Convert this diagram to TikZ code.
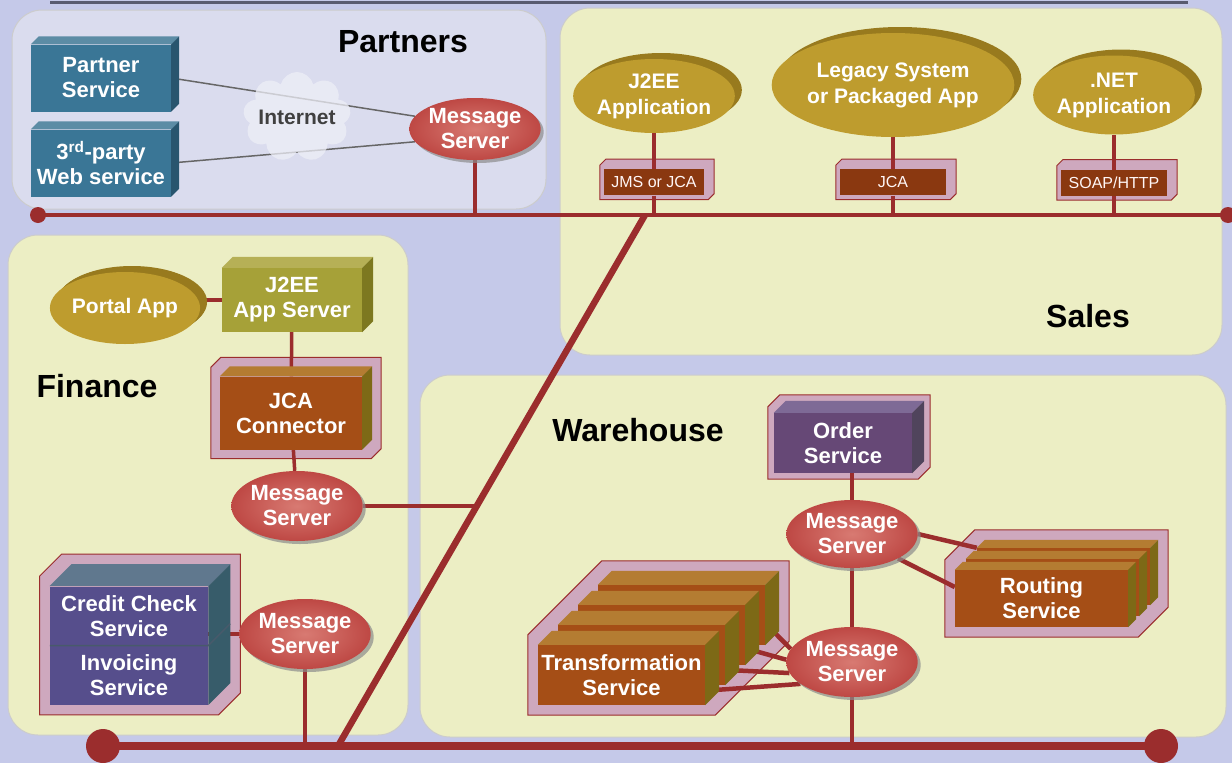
\documentclass[tikz,border=0pt]{standalone}
\usepackage{fontspec}
\setmainfont{Liberation Sans}
\usepackage{tikz}
\usetikzlibrary{shapes,arrows,positioning,fit,backgrounds,calc,shadows}
\definecolor{bgblue}{RGB}{197,201,233}
\definecolor{partnerbg}{RGB}{218,220,238}
\definecolor{panelyel}{RGB}{236,238,196}
\definecolor{wirered}{RGB}{155,45,45}
\definecolor{msred}{RGB}{190,72,68}
\definecolor{msredlight}{RGB}{216,122,114}
\definecolor{appolive}{RGB}{190,156,46}
\definecolor{appdark}{RGB}{152,122,30}
\definecolor{psblue}{RGB}{58,118,150}
\definecolor{psbluetop}{RGB}{92,140,165}
\definecolor{psblueside}{RGB}{40,85,110}
\definecolor{srvolive}{RGB}{166,161,56}
\definecolor{srvolivetop}{RGB}{182,176,86}
\definecolor{srvoliveside}{RGB}{125,120,32}
\definecolor{rust}{RGB}{165,78,22}
\definecolor{rusttop}{RGB}{180,124,50}
\definecolor{rustside}{RGB}{125,105,22}
\definecolor{ordpurple}{RGB}{102,72,118}
\definecolor{ordpurpletop}{RGB}{126,106,150}
\definecolor{ordpurpleside}{RGB}{80,68,92}
\definecolor{ccpurple}{RGB}{86,78,140}
\definecolor{ccpurpletop}{RGB}{96,120,142}
\definecolor{ccpurpleside}{RGB}{55,92,106}
\definecolor{casepink}{RGB}{206,168,190}
\definecolor{protobrown}{RGB}{138,56,16}
\definecolor{topline}{RGB}{88,90,112}
\newcommand{\lblfont}{\bfseries\fontsize{22}{25}\selectfont}
\newcommand{\appfont}{\bfseries\fontsize{21}{26}\selectfont}
\newcommand{\regionfont}{\bfseries\fontsize{32}{36}\selectfont}
\newcommand{\protofont}{\fontsize{16}{18}\selectfont}
\tikzstyle{region} = [draw=none, fill=none, text=black, font=\regionfont]
\tikzstyle{msg} = [ellipse, inner color=msredlight, outer color=msred, text=white, font=\lblfont, align=center, inner sep=0pt, minimum width=122pt, minimum height=70pt, drop shadow={shadow xshift=3pt, shadow yshift=-3pt, fill=black!45, opacity=0.7}]
\tikzstyle{app} = [ellipse, fill=appolive, text=white, font=\appfont, align=center, inner sep=0pt, general shadow={shadow xshift=7pt, shadow yshift=6pt, fill=appdark}]
\tikzstyle{svcbox} = [rectangle, text=white, font=\lblfont, align=center, inner sep=0pt]
\tikzstyle{protobox} = [rectangle, fill=protobrown, text=white!85!pink, font=\protofont, minimum width=100pt, minimum height=26pt, inner sep=0pt]
\tikzstyle{dot} = [circle, fill=wirered, inner sep=0pt, minimum size=16pt]
\tikzstyle{bigdot} = [circle, fill=wirered, inner sep=0pt, minimum size=34pt]
\tikzstyle{wire} = [draw=wirered, line width=3.5pt]
\tikzstyle{link} = [draw=wirered, line width=4.5pt]
\tikzstyle{bus} = [draw=wirered, line width=8pt]
\tikzstyle{thinwire} = [draw=black!60, line width=1.5pt]
\tikzstyle{panel} = [rounded corners=30pt, draw=black!20, line width=1pt]
\tikzstyle{hatchcase} = [fill=casepink, draw=wirered, line width=1pt]
\pgfdeclarelayer{casing}
\pgfdeclarelayer{wires}
\pgfsetlayers{background,casing,wires,main}
% top and side faces of a box node: node, depth, top colour, side colour
\newcommand{\boxfaces}[4]{%
  \fill[#3] (#1.north west) -- ++(#2,-#2) -- ($(#1.north east)+(#2,-#2)$) -- (#1.north east) -- cycle;
  \fill[#4] (#1.north east) -- ++(#2,-#2) -- ($(#1.south east)+(#2,-#2)$) -- (#1.south east) -- cycle;}
% hatched casing round a box node: node, margin, depth
\newcommand{\casebox}[3]{%
  \begin{pgfonlayer}{casing}
  \path[hatchcase] ($(#1.south west)+(-#2,#2)$) -- ($(#1.north west)+(-#2,-#2)$) -- ($(#1.north west)+(#3-#2,-#3-#2)$) -- ($(#1.north east)+(#3+#2,-#3-#2)$) -- ($(#1.south east)+(#3+#2,#2-#3)$) -- ($(#1.south east)+(#2,#2)$) -- cycle;
  \end{pgfonlayer}}
\begin{document}
\begin{tikzpicture}[x=1pt, y=-1pt]
\useasboundingbox (0,0) rectangle (1232,763);

% panels =============================
\begin{pgfonlayer}{background}
\fill[bgblue] (0,0) rectangle (1232,763);
\draw[topline, line width=3pt] (50,2) -- (1188,2);
\path[panel, fill=partnerbg] (12,10) rectangle (546,209);
\path[panel, fill=panelyel] (560,8) rectangle (1222,355);
\path[panel, fill=panelyel] (8,235) rectangle (408,735);
\path[panel, fill=panelyel] (420,375) rectangle (1226,737);
\end{pgfonlayer}

% buses
\node[dot] (tbusL) at (38,215) {};
\node[dot] (tbusR) at (1228,215) {};
\node[bigdot] (bbusL) at (103,746) {};
\node[bigdot] (bbusR) at (1161,746) {};
\coordinate (dbot) at (338,746);
\coordinate (dtop) at (645,215);
\coordinate (djoin) at ($(dbot)!0.449!(dtop)$);

% partners =============================
\node[region] (partners) at (403,42) {Partners};
\node[svcbox, fill=psblue, minimum width=140pt, minimum height=67pt] (psvc) at (101,78) {Partner\\Service};
\boxfaces{psvc}{8}{psbluetop}{psblueside}
\node[svcbox, fill=psblue, minimum width=140pt, minimum height=67pt] (tpws) at (101,163) {3\textsuperscript{rd}-party\\Web service};
\boxfaces{tpws}{8}{psbluetop}{psblueside}
\node[cloud, cloud puffs=9, cloud ignores aspect, fill=white!55!partnerbg, fill opacity=0.75, text opacity=1, minimum width=105pt, minimum height=90pt, inner sep=0pt, text=black!75, font=\bfseries\fontsize{21}{24}\selectfont] (inet) at (297,117) {Internet};
\node[msg, minimum width=114pt, minimum height=62pt] (mspart) at (475,129) {Message\\Server};

% sales =============================
\node[region] (sales) at (1088,316) {Sales};
\node[app, minimum width=152pt, minimum height=74pt] (j2app) at (654,96) {J2EE\\Application};
\node[app, minimum width=190pt, minimum height=104pt] (legacy) at (893,85) {Legacy System\\or Packaged App};
\node[app, minimum width=154pt, minimum height=79pt] (netapp) at (1114,95) {.NET\\Application};
\node[protobox, minimum width=100pt, below=36pt of j2app] (jmsjca) {JMS or JCA};
\casebox{jmsjca}{4}{6}
\node[protobox, minimum width=106pt, below=32pt of legacy] (jca) {JCA};
\casebox{jca}{4}{6}
\node[protobox, minimum width=106pt, below=35pt of netapp] (soap) {SOAP/HTTP};
\casebox{soap}{4}{6}

% finance =============================
\node[region] (finance) at (97,386) {Finance};
\node[app, minimum width=150pt, minimum height=72pt, general shadow={shadow xshift=6pt, shadow yshift=5pt, fill=appdark}] (portal) at (125,308) {Portal App};
\node[svcbox, fill=srvolive, minimum width=140pt, minimum height=64pt] (j2srv) at (292,300) {J2EE\\App Server};
\boxfaces{j2srv}{11}{srvolivetop}{srvoliveside}
\node[svcbox, fill=rust, minimum width=142pt, minimum height=73pt] (jcacon) at (291,413) {JCA\\Connector};
\boxfaces{jcacon}{10}{rusttop}{rustside}
\casebox{jcacon}{9}{10}
\node[msg] (msfin) at (297,506) {Message\\Server};
\node[svcbox, fill=ccpurple, minimum width=158pt, minimum height=59pt] (ccsvc) at (129,616) {Credit Check\\Service};
\node[svcbox, fill=ccpurple, minimum width=158pt, minimum height=59pt] (invsvc) at (129,675) {Invoicing\\Service};
\node[fit=(ccsvc)(invsvc), inner sep=0pt] (ccinv) {};
\boxfaces{ccinv}{22}{ccpurpletop}{ccpurpleside}
\casebox{ccinv}{10}{22}
\draw[black!25!ccpurpletop, line width=1.5pt] (ccsvc.south west) -- (ccsvc.south east) -- ++(22,-22);
\node[msg] (msinv) at (305,634) {Message\\Server};

% warehouse =============================
\node[region] (warehouse) at (638,430) {Warehouse};
\node[svcbox, fill=ordpurple, minimum width=138pt, minimum height=60pt] (ordsvc) at (843,443) {Order\\Service};
\boxfaces{ordsvc}{12}{ordpurpletop}{ordpurpleside}
\casebox{ordsvc}{6}{12}
\node[msg, minimum height=68pt] (msw1) at (852,534) {Message\\Server};
\node[msg] (msw2) at (852,662) {Message\\Server};
% routing, three boxes deep
\node[svcbox, fill=rust, minimum width=173pt, minimum height=57pt] (routing3) at (1063.5,576.5) {};
\boxfaces{routing3}{8}{rusttop}{rustside}
\node[svcbox, fill=rust, minimum width=173pt, minimum height=57pt] (routing2) at (1052.5,587.5) {};
\boxfaces{routing2}{8}{rusttop}{rustside}
\node[svcbox, fill=rust, minimum width=173pt, minimum height=57pt] (routing) at (1041.5,598.5) {Routing\\Service};
\boxfaces{routing}{8}{rusttop}{rustside}
\casebox{routing}{10}{30}
% transformation, four boxes deep
\node[svcbox, fill=rust, minimum width=167pt, minimum height=60pt] (transf4) at (681.5,615) {};
\boxfaces{transf4}{14}{rusttop}{rustside}
\node[svcbox, fill=rust, minimum width=167pt, minimum height=60pt] (transf3) at (661.5,635) {};
\boxfaces{transf3}{14}{rusttop}{rustside}
\node[svcbox, fill=rust, minimum width=167pt, minimum height=60pt] (transf2) at (641.5,655) {};
\boxfaces{transf2}{14}{rusttop}{rustside}
\node[svcbox, fill=rust, minimum width=167pt, minimum height=60pt] (transf) at (621.5,675) {Transformation\\Service};
\boxfaces{transf}{14}{rusttop}{rustside}
\casebox{transf}{10}{74}

% edges
\begin{pgfonlayer}{wires}
\path[wire] (tbusL.center) -- (tbusR.center);
\path[bus] (bbusL.center) -- (bbusR.center);
\path[bus, line width=6.5pt] (dbot) -- (dtop);
\path[thinwire] (psvc.east) -- (mspart.168);
\path[thinwire] (tpws.east) -- (mspart.192);
\path[wire] (mspart) -- (mspart |- tbusL);
\path[wire] (j2app) -- (jmsjca);
\path[wire] (jmsjca) -- (jmsjca |- tbusL);
\path[wire] (legacy) -- (jca);
\path[wire] (jca) -- (jca |- tbusL);
\path[wire] (netapp) -- (soap);
\path[wire] (soap) -- (soap |- tbusL);
\path[wire] (j2srv) -- (portal |- j2srv);
\path[wire] (j2srv) -- (jcacon);
\path[wire] (jcacon) -- (msfin);
\path[link] (msfin) -- (msfin -| djoin);
\path[link] (msinv) -- (msinv -| ccinv);
\path[link] (msinv) -- (msinv |- bbusL);
\path[wire] (msw1) -- (msw1 |- ordsvc);
\path[link] (msw1) -- (msw2);
\path[link] (msw2) -- (msw2 |- bbusL);
\path[link] (msw1.east) -- (routing3.north west);
\path[link] (msw1.-28) -- ($(routing.north west)!0.3!(routing.south west)$);
\path[link] (msw2.168) -- ($(transf4.south east)+(7,-15)$);
\path[link] (msw2.178) -- ($(transf3.south east)+(7,-15)$);
\path[link] (msw2.190) -- ($(transf2.south east)+(7,-15)$);
\path[link] (msw2.203) -- ($(transf.south east)+(7,-15)$);
\end{pgfonlayer}

\end{tikzpicture}
\end{document}
